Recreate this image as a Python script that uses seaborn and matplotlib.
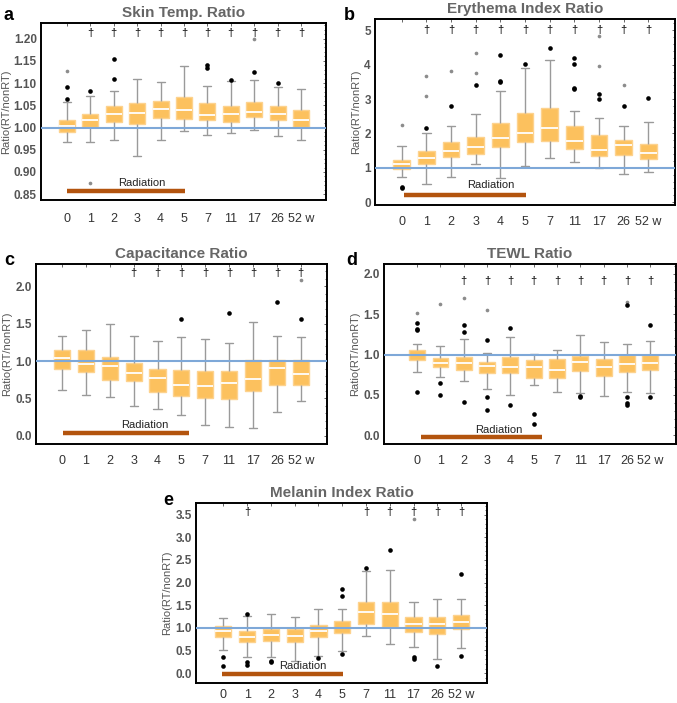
import matplotlib
matplotlib.use("Agg")
import pandas as pd
import matplotlib.pyplot as plt
import matplotlib.transforms as mtransforms
from matplotlib.ticker import AutoMinorLocator, FormatStrFormatter
import seaborn as sns

# categories (weeks)
weeks = ["0", "1", "2", "3", "4", "5", "7", "11", "17", "26", "52"]
week_labels = ["0", "1", "2", "3", "4", "5", "7", "11", "17", "26", "52 w"]

# a: skin temperature ratio
skin_lo = [0.967, 0.968, 0.972, 0.936, 0.972, 0.992, 0.983, 0.988, 0.995, 0.980, 0.972]
skin_q1 = [0.989, 1.001, 1.013, 1.007, 1.021, 1.020, 1.016, 1.013, 1.023, 1.018, 1.001]
skin_med = [1.003, 1.016, 1.030, 1.032, 1.041, 1.039, 1.028, 1.030, 1.034, 1.031, 1.016]
skin_q3 = [1.017, 1.030, 1.049, 1.056, 1.059, 1.068, 1.054, 1.049, 1.058, 1.049, 1.040]
skin_hi = [1.057, 1.070, 1.083, 1.110, 1.102, 1.139, 1.093, 1.105, 1.106, 1.090, 1.086]
# (week index, value, far outlier?)
skin_out = [(0, 1.127, 1), (0, 1.092, 0), (0, 1.063, 0), (1, 1.081, 0), (1, 0.876, 1),
            (2, 1.155, 0), (2, 1.108, 0), (6, 1.140, 0), (6, 1.134, 0), (7, 1.106, 0),
            (8, 1.124, 0), (8, 1.199, 1), (9, 1.101, 0)]
skin_sig = [1, 2, 3, 4, 5, 6, 7, 8, 9, 10]

# b: erythema index ratio
ery_lo = [0.74, 0.52, 0.74, 1.12, 0.70, 1.04, 1.29, 1.18, 0.99, 0.81, 0.88]
ery_q1 = [0.96, 1.10, 1.33, 1.41, 1.61, 1.75, 1.78, 1.56, 1.34, 1.37, 1.26]
ery_med = [1.10, 1.29, 1.50, 1.60, 1.88, 2.01, 2.17, 1.77, 1.53, 1.66, 1.43]
ery_q3 = [1.23, 1.50, 1.74, 1.91, 2.30, 2.61, 2.75, 2.22, 1.96, 1.81, 1.70]
ery_hi = [1.65, 2.01, 2.23, 2.56, 3.24, 3.91, 4.13, 2.65, 2.46, 2.23, 2.32]
ery_out = [(0, 2.26, 1), (0, 0.45, 0), (0, 0.41, 0), (1, 2.17, 0), (1, 3.09, 1), (1, 3.68, 1),
           (2, 2.79, 0), (2, 3.83, 1), (3, 3.40, 0), (3, 3.75, 1), (3, 4.33, 1),
           (4, 4.27, 0), (4, 3.53, 0), (4, 3.50, 0), (5, 4.02, 0), (6, 4.49, 0),
           (7, 4.21, 0), (7, 4.03, 0), (7, 3.33, 0), (7, 3.29, 0), (8, 3.15, 0), (8, 3.00, 0),
           (8, 3.95, 1), (8, 4.83, 1), (9, 2.79, 0), (9, 3.42, 1), (10, 3.03, 0)]
ery_sig = [1, 2, 3, 4, 5, 6, 7, 8, 9, 10]

# c: capacitance ratio
cap_lo = [0.61, 0.54, 0.52, 0.40, 0.36, 0.28, 0.15, 0.12, 0.11, 0.32, 0.46]
cap_q1 = [0.895, 0.855, 0.75, 0.74, 0.58, 0.53, 0.51, 0.49, 0.60, 0.68, 0.68]
cap_med = [1.04, 0.96, 0.94, 0.84, 0.77, 0.685, 0.67, 0.71, 0.76, 0.91, 0.83]
cap_q3 = [1.15, 1.15, 1.06, 0.98, 0.89, 0.886, 0.87, 0.87, 1.02, 1.02, 1.02]
cap_hi = [1.34, 1.41, 1.49, 1.33, 1.27, 1.32, 1.29, 1.24, 1.52, 1.33, 1.32]
cap_out = [(5, 1.56, 0), (7, 1.64, 0), (9, 1.79, 0), (10, 1.56, 0), (10, 2.08, 1)]
cap_sig = [3, 4, 5, 6, 7, 8, 9, 10]

# d: TEWL ratio
tewl_lo = [0.78, 0.72, 0.67, 0.57, 0.50, 0.62, 0.54, 0.52, 0.49, 0.54, 0.53]
tewl_q1 = [0.93, 0.85, 0.81, 0.77, 0.77, 0.71, 0.71, 0.80, 0.74, 0.78, 0.81]
tewl_med = [1.00, 0.89, 0.90, 0.86, 0.84, 0.84, 0.81, 0.91, 0.84, 0.88, 0.90]
tewl_q3 = [1.06, 0.96, 0.975, 0.91, 0.97, 0.93, 0.94, 0.98, 0.94, 0.99, 1.00]
tewl_hi = [1.13, 1.11, 1.19, 1.02, 1.22, 1.01, 1.05, 1.24, 1.15, 1.13, 1.17]
tewl_out = [(0, 1.51, 1), (0, 1.39, 0), (0, 1.32, 0), (0, 1.30, 0), (0, 0.54, 0),
            (1, 1.63, 1), (1, 0.65, 0), (1, 0.50, 0), (2, 1.70, 1), (2, 1.37, 0),
            (2, 1.28, 0), (2, 0.41, 0), (3, 1.55, 1), (3, 1.18, 0), (3, 0.47, 0),
            (3, 0.31, 0), (4, 1.33, 0), (4, 0.37, 0), (5, 0.26, 0), (5, 0.14, 0),
            (7, 0.49, 0), (7, 0.47, 0), (9, 0.47, 0), (9, 0.40, 0), (9, 0.38, 0),
            (9, 1.65, 1), (9, 1.61, 0), (10, 1.36, 0), (10, 0.48, 0)]
tewl_sig = [2, 3, 4, 5, 6, 7, 8, 9, 10]

# e: melanin index ratio
mel_lo = [0.52, 0.35, 0.35, 0.26, 0.38, 0.48, 0.82, 0.65, 0.57, 0.32, 0.56]
mel_q1 = [0.80, 0.685, 0.70, 0.685, 0.79, 0.88, 1.09, 1.01, 0.90, 0.855, 0.965]
mel_med = [0.92, 0.80, 0.84, 0.81, 0.92, 0.99, 1.35, 1.30, 1.08, 1.09, 1.13]
mel_q3 = [1.04, 0.92, 0.965, 0.98, 1.07, 1.16, 1.56, 1.57, 1.245, 1.245, 1.28]
mel_hi = [1.21, 1.27, 1.31, 1.245, 1.42, 1.42, 2.25, 2.28, 1.58, 1.64, 1.64]
mel_out = [(0, 0.36, 0), (0, 0.16, 0), (1, 1.31, 0), (1, 0.24, 0), (1, 0.17, 0),
           (2, 0.27, 0), (2, 0.24, 0), (4, 0.33, 0), (5, 1.86, 0), (5, 1.70, 0),
           (5, 0.43, 0), (6, 2.32, 0), (7, 2.72, 0), (8, 0.35, 0), (8, 0.32, 0),
           (8, 3.40, 1), (9, 0.155, 0), (10, 2.20, 0), (10, 0.37, 0)]
mel_sig = [1, 6, 7, 8, 9, 10]

BOX_COLOR = "#fcc15e"
LINE_GRAY = "#9a9a9a"
BLUE = "#7ea8d8"
BROWN = "#b3540e"


def box_table(lo, q1, med, q3, hi, reps=9):
    # long table whose quartiles / extremes equal the read-off box statistics
    rows = []
    for i, w in enumerate(weeks):
        vals = [lo[i]] + [q1[i]] * reps + [med[i]] + [q3[i]] * reps + [hi[i]]
        rows += [(w, v) for v in vals]
    return pd.DataFrame(rows, columns=["week", "ratio"])


panels = [
    dict(letter="a", title="Skin Temp. Ratio", stats=(skin_lo, skin_q1, skin_med, skin_q3, skin_hi),
         out=skin_out, sig=skin_sig, sig_y=1.2135, pos=(41, 23, 326, 200),
         ylim=(0.837, 1.235), xlim=(-1.11, 11.07), yticks=[0.85, 0.90, 0.95, 1.00, 1.05, 1.10, 1.15, 1.20],
         fmt="%.2f", rad=(0.0, 5.05, 0.858), rad_txt=(3.2, 0.875), letter_xy=(4, 20), xpad=9),
    dict(letter="b", title="Erythema Index Ratio", stats=(ery_lo, ery_q1, ery_med, ery_q3, ery_hi),
         out=ery_out, sig=ery_sig, sig_y=5.0, pos=(375, 19, 675, 205),
         ylim=(-0.08, 5.33), xlim=(-1.08, 11.08), yticks=[0, 1, 2, 3, 4, 5],
         fmt="%d", rad=(0.1, 5.05, 0.21), rad_txt=(3.6, 0.49), letter_xy=(344, 20), xpad=8),
    dict(letter="c", title="Capacitance Ratio", stats=(cap_lo, cap_q1, cap_med, cap_q3, cap_hi),
         out=cap_out, sig=cap_sig, sig_y=2.18, pos=(36, 264, 327, 444),
         ylim=(-0.11, 2.30), xlim=(-1.09, 11.1), yticks=[0.0, 0.5, 1.0, 1.5, 2.0],
         fmt="%.1f", rad=(0.05, 5.3, 0.04), rad_txt=(3.45, 0.14), letter_xy=(4, 265), xpad=8),
    dict(letter="d", title="TEWL Ratio", stats=(tewl_lo, tewl_q1, tewl_med, tewl_q3, tewl_hi),
         out=tewl_out, sig=tewl_sig, sig_y=1.91, pos=(384, 264, 676, 444),
         ylim=(-0.107, 2.12), xlim=(-1.42, 11.1), yticks=[0.0, 0.5, 1.0, 1.5, 2.0],
         fmt="%.1f", rad=(0.18, 5.35, -0.02), rad_txt=(3.5, 0.07), letter_xy=(346, 265), xpad=8),
    dict(letter="e", title="Melanin Index Ratio", stats=(mel_lo, mel_q1, mel_med, mel_q3, mel_hi),
         out=mel_out, sig=mel_sig, sig_y=3.55, pos=(196, 503, 487, 683),
         ylim=(-0.22, 3.76), xlim=(-1.15, 11.09), yticks=[0.0, 0.5, 1.0, 1.5, 2.0, 2.5, 3.0, 3.5],
         fmt="%.1f", rad=(-0.04, 5.05, -0.015), rad_txt=(3.35, 0.16), letter_xy=(163, 505), xpad=4.5),
]

sns.set_theme(style="white")
plt.rcParams["font.family"] = ["Liberation Sans", "DejaVu Sans"]

W, H = 677, 703
fig = plt.figure(figsize=(W / 100, H / 100), dpi=100)

for p in panels:
    x0, y0, x1, y1 = p["pos"]
    ax = fig.add_axes([x0 / W, 1 - y1 / H, (x1 - x0) / W, (y1 - y0) / H])
    df = box_table(*p["stats"])
    sns.boxplot(data=df, x="week", y="ratio", order=weeks, whis=(0, 100), showfliers=False,
                width=0.68, color=BOX_COLOR, saturation=1, linewidth=1.0, ax=ax,
                boxprops=dict(facecolor=BOX_COLOR, edgecolor="#fdd28e", linewidth=1.0),
                medianprops=dict(color="white", linewidth=1.3),
                whiskerprops=dict(color=LINE_GRAY, linewidth=1.0),
                capprops=dict(color=LINE_GRAY, linewidth=1.0))

    # outliers: black, far outliers gray
    for i, v, far in p["out"]:
        if far:
            ax.scatter(i, v, s=7, color="#8c8c8c", linewidths=0, zorder=4)
        else:
            ax.scatter(i, v, s=11, color="black", linewidths=0, zorder=4)

    ax.axhline(1.0, color=BLUE, lw=1.5, zorder=5)

    # significance daggers
    for i in p["sig"]:
        ax.text(i, p["sig_y"], "\u2020", ha="center", va="center", fontsize=8, color="black")

    # radiation bar
    rx0, rx1, ry = p["rad"]
    ax.plot([rx0, rx1], [ry, ry], color=BROWN, lw=3.2, solid_capstyle="butt", zorder=3)
    ax.text(p["rad_txt"][0], p["rad_txt"][1], "Radiation", ha="center", va="center",
            fontsize=8, color="#222222")

    ax.set_xlim(*p["xlim"])
    ax.set_ylim(*p["ylim"])
    ax.set_xticks(range(len(weeks)))
    ax.set_xticklabels(week_labels, fontsize=9, color="#333333")
    lbl = ax.get_xticklabels()[-1]
    lbl.set_transform(lbl.get_transform() + mtransforms.ScaledTranslation(5 / 100, 0, fig.dpi_scale_trans))
    ax.set_yticks(p["yticks"])
    ax.yaxis.set_major_formatter(FormatStrFormatter(p["fmt"]))
    ax.yaxis.set_minor_locator(AutoMinorLocator(5))
    for t in ax.get_yticklabels():
        t.set_fontsize(8.5)
        t.set_color("#555555")
        t.set_fontweight("bold")
    ax.tick_params(axis="both", which="both", direction="in", top=True, right=True,
                   color="#666666", width=0.7)
    ax.tick_params(axis="both", which="major", length=2.5)
    ax.tick_params(axis="y", which="minor", length=1.5)
    ax.tick_params(axis="x", which="major", pad=p["xpad"])
    ax.tick_params(axis="y", which="major", pad=3)
    ax.set_xlabel("")
    ax.set_ylabel("Ratio(RT/nonRT)", fontsize=8, color="#555555", labelpad=2)
    for s in ax.spines.values():
        s.set_color("black")
        s.set_linewidth(1.4)
    ax.set_title(p["title"], fontsize=11, fontweight="bold", color="#666666", pad=4.5)

    fig.text(p["letter_xy"][0] / W, 1 - p["letter_xy"][1] / H, p["letter"],
             fontsize=13, fontweight="bold", color="black", va="baseline")

fig.savefig("out.png", dpi=100)
